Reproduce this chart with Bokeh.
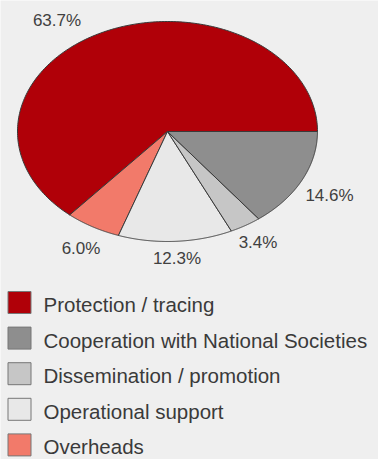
import numpy as np
from bokeh.plotting import figure
from bokeh.models import Range1d
from bokeh.core.properties import value
from bokeh.embed import file_html
from bokeh.resources import INLINE

# ---- data ----
categories = ["Protection / tracing", "Cooperation with National Societies",
              "Dissemination / promotion", "Operational support", "Overheads"]
shares = [63.7, 14.6, 3.4, 12.3, 6.0]
colors = ["#b00008", "#8e8e8e", "#c6c6c6", "#e8e8e8", "#f27a6a"]
pie_order = [0, 4, 3, 2, 1]  # counter-clockwise from 3 o'clock
labels = ["63.7%", "14.6%", "3.4%", "12.3%", "6.0%"]

# ---- layout ----
W, H = 378, 459
cx, cy, ra, rb = 167, 131, 150, 110
label_xy = {0: (56.5, 20), 1: (329, 195), 2: (257.5, 241.5), 3: (176.5, 258), 4: (80.5, 248)}
bg = "#efefef"
FONT = "Liberation Sans"

p = figure(width=W, height=H, output_backend="svg", toolbar_location=None,
           x_range=Range1d(0, W), y_range=Range1d(H, 0), min_border=0)
p.axis.visible = False
p.grid.visible = False
p.outline_line_color = None
p.background_fill_color = bg
p.border_fill_color = bg

total = sum(shares)
start = 0.0
xs, ys, fills = [], [], []
for idx in pie_order:
    frac = shares[idx] / total
    t = np.linspace(start, start + frac * 2 * np.pi, 200)
    px = np.concatenate([[cx], cx + ra * np.cos(t)])
    py = np.concatenate([[cy], cy - rb * np.sin(t)])
    xs.append(px.tolist()); ys.append(py.tolist()); fills.append(colors[idx])
    start += frac * 2 * np.pi

p.patches(xs=xs, ys=ys, fill_color=fills, line_color="#3a3a3a", line_width=1)

lx = [label_xy[i][0] for i in range(len(labels))]
ly = [label_xy[i][1] for i in range(len(labels))]
p.text(x=lx, y=ly, text=labels, text_align="center", text_baseline="middle",
       text_font=value(FONT), text_font_size="17px", text_color="#404040")

# legend
n = len(categories)
rows_y = [302 + 35.6 * i for i in range(n)]
p.rect(x=[19] * n, y=rows_y, width=23, height=22, fill_color=colors,
       line_color="#777777", line_width=1)
p.text(x=[43] * n, y=[y + 2 for y in rows_y], text=categories, text_align="left",
       text_baseline="middle", text_font=value(FONT),
       text_font_size="20.5px", text_color="#3a3a3a")

open("out.html", "w").write(file_html(p, INLINE))
